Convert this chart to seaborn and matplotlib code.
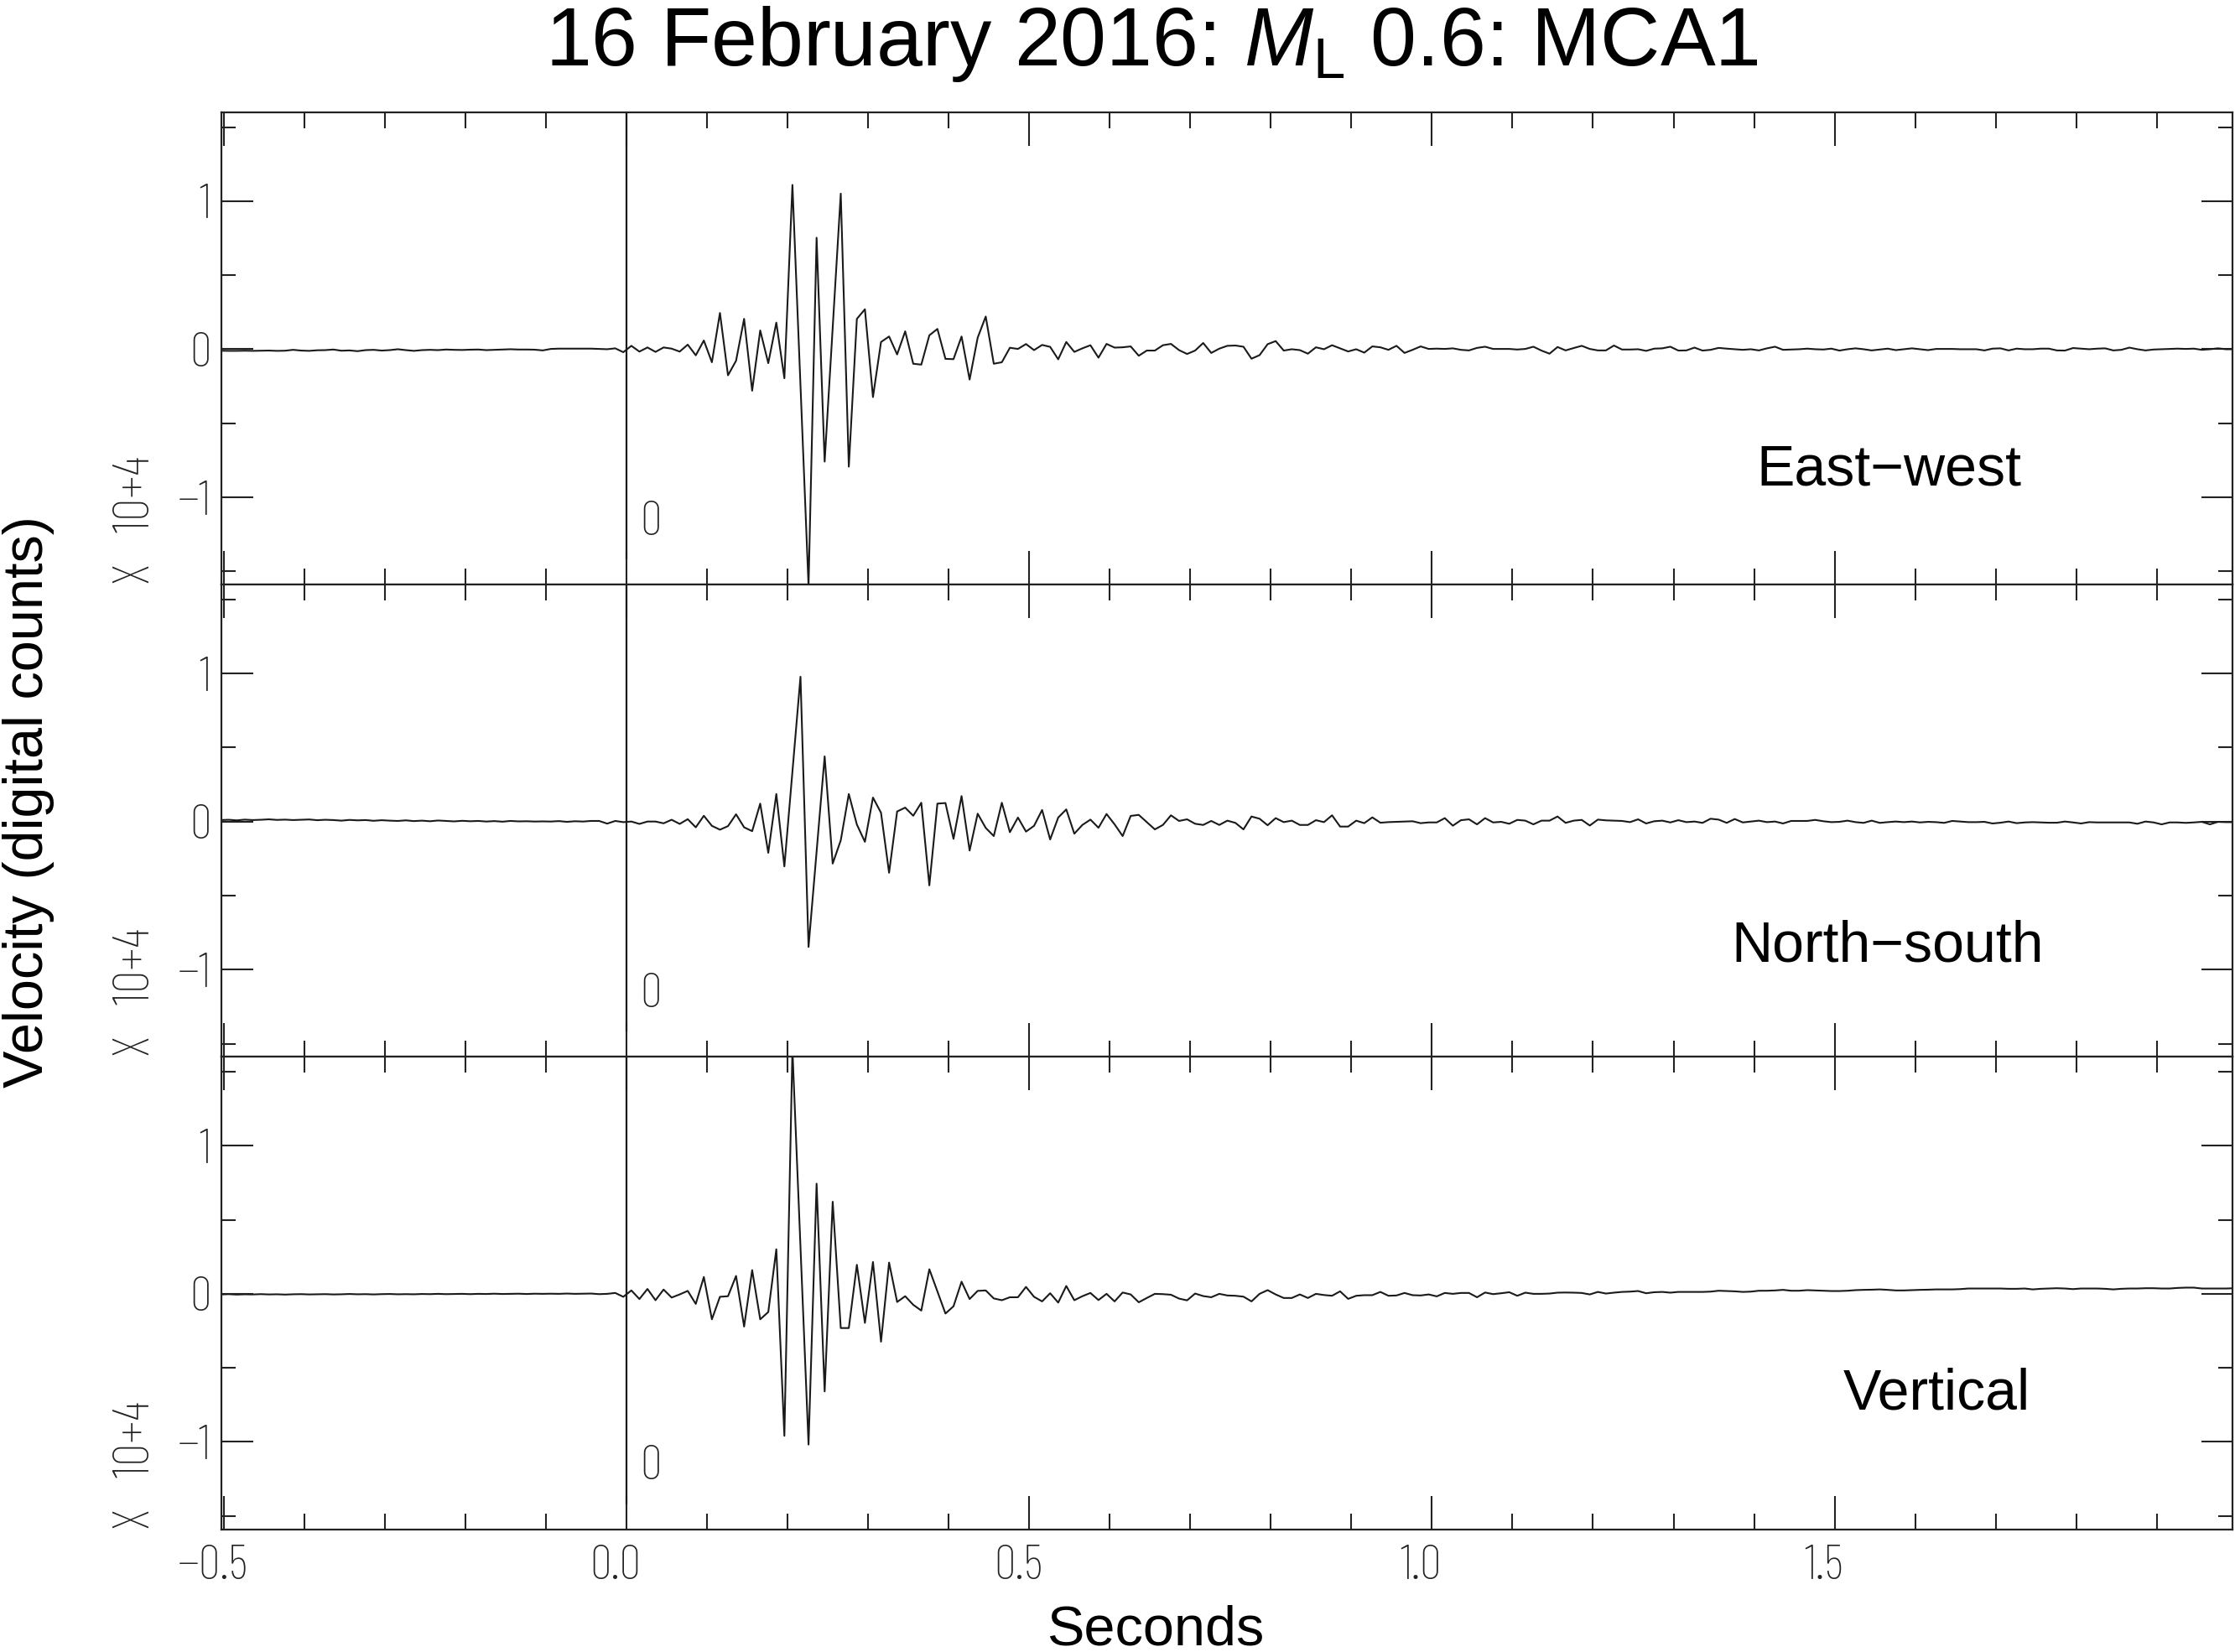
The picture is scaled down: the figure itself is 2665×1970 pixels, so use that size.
import numpy as np
import pandas as pd
import matplotlib
matplotlib.use("Agg")
import matplotlib.pyplot as plt
import matplotlib.font_manager as fm
from matplotlib.ticker import MultipleLocator, FixedLocator
from matplotlib.transforms import ScaledTranslation
import seaborn as sns

# ---------------- data ----------------
sample_start = -0.504      # time of first sample (s)
sample_step = 0.01         # 100 Hz

component_names = ["East\u2212west", "North\u2212south", "Vertical"]

ew_pre = [-0.010, -0.011, -0.011, -0.010, -0.011, -0.010, -0.009, -0.011, -0.010, -0.004,
          -0.009, -0.011, -0.007, -0.006, -0.002, -0.010, -0.008, -0.013, -0.006, -0.004,
          -0.009, -0.006, 0.000, -0.006, -0.011, -0.006, -0.004, -0.006, -0.002, -0.004,
          -0.005, -0.003, -0.002, -0.006, -0.004, -0.002, 0.000, -0.002, -0.002, -0.003,
          -0.008, 0.002, 0.004, 0.004, 0.004, 0.004, 0.004, 0.002, 0.000, 0.006, -0.020]
ew_event = [0.023, -0.016, 0.012, -0.018, 0.012, 0.004, -0.016, 0.031, -0.041, 0.059,
            -0.088, 0.245, -0.176, -0.078, 0.205, -0.280, 0.127, -0.094, 0.180, -0.196,
            1.110, -0.25, -1.60, 0.753, -0.759, 0.15, 1.051, -0.793, 0.205, 0.270,
            -0.323, 0.049, 0.086, -0.035, 0.121, -0.098, -0.104, 0.094, 0.137, -0.065,
            -0.067, 0.086, -0.205, 0.078, 0.221, -0.098, -0.088, 0.010, 0.002, 0.035,
            -0.006, 0.029, 0.016, -0.068, 0.049, -0.018, 0.006]
ew_coda = [0.027, -0.057, 0.036, 0.011, 0.013, 0.019, -0.044, -0.009, -0.009, 0.027,
           0.036, -0.006, -0.032, -0.009, 0.042, -0.025, 0.004, 0.023, 0.025, 0.017,
           -0.064, -0.040, 0.034, 0.055, -0.009, 0.000, -0.006, -0.030, 0.013, 0.000,
           0.027, 0.006, -0.015, 0.000, -0.023, 0.019, 0.013, -0.004, 0.023, -0.025,
           -0.004, 0.019, 0.002, 0.004, 0.002, 0.006, -0.004, -0.008, 0.009, 0.017,
           0.002, 0.002, 0.002, -0.002, 0.002, 0.017, -0.009, -0.030, 0.015, -0.008,
           0.008, 0.023, 0.002, -0.008, -0.008, 0.025, -0.002, -0.002, 0.000, -0.011,
           0.004]
ew_tail = [0.006, 0.017, -0.009, -0.008, 0.011, -0.009, -0.004, 0.009, 0.004, 0.000,
           -0.004, 0.000, -0.008, 0.006, 0.017, -0.004, -0.002, 0.000, 0.004, 0.000,
           -0.002, 0.004, -0.009, 0.000, 0.006, 0.000, -0.008, -0.002, 0.004, -0.006,
           0.000, 0.006, 0.000, -0.006, 0.002, 0.002, 0.002, 0.000, 0.000, 0.000,
           -0.008, 0.004, 0.006, -0.008, 0.004, 0.000, 0.000, 0.004, 0.004, -0.008,
           -0.009, 0.008, 0.004, 0.000, 0.004, 0.006, -0.008, -0.004, 0.011, 0.000,
           -0.008, -0.002, 0.000, 0.002, 0.004, 0.002, 0.004, -0.004, 0.000, 0.006,
           0.000, 0.000]

ns_pre = [0.010, 0.012, 0.008, 0.013, 0.010, 0.012, 0.015, 0.011, 0.013, 0.010,
          0.012, 0.014, 0.009, 0.012, 0.010, 0.006, 0.011, 0.008, 0.010, 0.005,
          0.009, 0.006, 0.004, 0.008, 0.003, 0.006, 0.002, 0.007, 0.004, 0.001,
          0.005, 0.002, 0.004, 0.000, 0.003, -0.001, 0.004, 0.001, 0.002, 0.000,
          0.001, 0.000, 0.003, -0.002, 0.002, 0.000, 0.004, 0.004, -0.014, 0.004, -0.004]
ns_event = [0.000, -0.016, 0.000, 0.000, -0.012, 0.012, -0.016, 0.016, -0.039, 0.039,
            -0.029, -0.055, -0.031, 0.049, -0.039, -0.065, 0.121, -0.211, 0.186, -0.303,
            0.34, 0.978, -0.847, -0.20, 0.440, -0.284, -0.127, 0.186, -0.020, -0.137,
            0.162, 0.059, -0.346, 0.068, 0.094, 0.039, 0.127, -0.431, 0.121, 0.125,
            -0.117, 0.172, -0.196, 0.053, -0.043, -0.098, 0.127, -0.072, 0.027, -0.068,
            -0.029, 0.078, -0.121, 0.027, 0.082, -0.082, -0.023]
ns_coda = [0.013, -0.042, 0.051, -0.019, -0.098, 0.038, 0.045, -0.004, -0.053, -0.023,
           0.042, 0.004, 0.015, -0.015, -0.023, 0.004, -0.023, 0.006, -0.009, -0.053,
           0.034, 0.019, -0.025, 0.023, -0.004, 0.006, -0.023, -0.023, 0.009, -0.004,
           0.042, -0.034, -0.034, 0.006, -0.011, 0.028, -0.008, -0.004, -0.002, 0.000,
           0.002, -0.011, -0.006, -0.006, 0.023, -0.028, 0.009, 0.015, -0.019, 0.023,
           -0.006, -0.002, -0.015, 0.011, 0.006, -0.019, 0.006, 0.006, 0.034, -0.009,
           0.006, 0.011, -0.027, 0.013, 0.008, 0.006, 0.004, -0.004, 0.015, -0.013,
           0.002]
ns_tail = [0.006, -0.006, 0.009, -0.004, 0.000, -0.009, 0.019, 0.013, -0.009, 0.017,
           -0.006, 0.000, 0.006, -0.004, 0.000, -0.013, 0.004, 0.004, 0.004, 0.011,
           0.002, -0.004, -0.002, 0.006, -0.004, -0.009, 0.006, -0.009, -0.004, 0.000,
           -0.004, 0.000, -0.006, -0.002, -0.004, -0.009, 0.004, 0.000, -0.004, -0.004,
           -0.002, -0.013, -0.008, 0.000, -0.011, -0.006, -0.004, -0.006, -0.008, -0.008,
           0.000, -0.006, -0.013, -0.004, -0.006, -0.006, -0.006, -0.006, -0.006, -0.015,
           0.000, -0.006, -0.019, -0.006, -0.006, -0.009, -0.006, -0.002, -0.019, -0.002,
           -0.004, -0.004]

z_pre = [-0.004, -0.002, -0.005, -0.003, -0.004, -0.002, -0.004, -0.003, -0.005, -0.003,
         -0.002, -0.004, -0.003, -0.002, -0.004, -0.003, -0.001, -0.003, -0.002, -0.004,
         -0.002, -0.001, -0.003, -0.002, -0.003, -0.001, -0.002, 0.000, -0.002, -0.001,
         0.000, -0.002, 0.000, -0.001, 0.001, -0.001, 0.000, 0.001, -0.001, 0.001,
         0.000, 0.001, 0.000, 0.002, 0.000, 0.001, 0.002, -0.002, 0.000, 0.006, -0.020]
z_event = [0.023, -0.035, 0.033, -0.043, 0.029, -0.025, -0.004, 0.020, -0.068, 0.114,
           -0.172, -0.020, -0.016, 0.121, -0.221, 0.160, -0.172, -0.123, 0.301, -0.959,
           1.65, 0.32, -1.018, 0.744, -0.659, 0.622, -0.231, -0.231, 0.196, -0.196,
           0.215, -0.323, 0.211, -0.055, -0.016, -0.074, -0.113, 0.166, 0.016, -0.133,
           -0.084, 0.082, -0.035, 0.020, 0.023, -0.031, -0.043, -0.023, -0.023, 0.047,
           -0.020, -0.051, 0.004, -0.059, 0.053, -0.043, -0.016]
z_coda = [0.006, -0.042, 0.000, -0.051, 0.009, -0.004, -0.057, -0.028, 0.000, -0.002,
          -0.006, -0.032, -0.044, 0.002, -0.015, -0.023, 0.000, -0.011, -0.013, -0.019,
          -0.051, 0.000, 0.025, -0.004, -0.028, -0.028, -0.004, -0.028, 0.000, -0.008,
          -0.013, 0.017, -0.034, -0.013, -0.009, -0.009, 0.013, -0.013, -0.011, 0.006,
          -0.009, -0.011, -0.004, -0.017, 0.006, 0.000, 0.006, 0.006, -0.023, 0.009,
          -0.002, 0.004, 0.011, -0.013, 0.008, 0.000, 0.000, 0.002, 0.008, 0.009,
          0.008, 0.006, -0.004, 0.013, 0.002, 0.008, 0.013, 0.015, 0.019, 0.004,
          0.011]
z_tail = [0.013, 0.008, 0.013, 0.013, 0.013, 0.013, 0.015, 0.021, 0.019, 0.017,
          0.013, 0.015, 0.021, 0.021, 0.023, 0.027, 0.021, 0.021, 0.025, 0.023,
          0.021, 0.019, 0.019, 0.021, 0.025, 0.027, 0.028, 0.030, 0.027, 0.023,
          0.023, 0.025, 0.027, 0.028, 0.030, 0.030, 0.030, 0.032, 0.036, 0.036,
          0.036, 0.036, 0.036, 0.034, 0.034, 0.036, 0.030, 0.034, 0.036, 0.038,
          0.036, 0.032, 0.036, 0.036, 0.036, 0.034, 0.030, 0.034, 0.036, 0.036,
          0.038, 0.038, 0.036, 0.036, 0.040, 0.042, 0.042, 0.036, 0.036, 0.036,
          0.036, 0.038]

# panel annotation positions (seconds, x10^4 counts)
label_x = [1.567, 1.566, 1.627]
label_y = [-0.918, -0.947, -0.78]
pick_time = 0.0
pick_bottom = -1.42
pick_text = "0"
scale_text = "X   10+4"
x_ticks = [-0.5, 0.0, 0.5, 1.0, 1.5]
x_ticklabels = ["\u22120.5", "0.0", "0.5", "1.0", "1.5"]
y_ticks = [-1, 0, 1]
y_ticklabels = ["\u22121", "0", "1"]
title_text = "16 February 2016: $\\mathit{M}_\\mathrm{L}$ 0.6: MCA1"
xlabel_text = "Seconds"
ylabel_text = "Velocity (digital counts)"

traces = [ew_pre + ew_event + ew_coda + ew_tail,
          ns_pre + ns_event + ns_coda + ns_tail,
          z_pre + z_event + z_coda + z_tail]
n_samples = len(traces[0])
times = np.round(sample_start + sample_step * np.arange(n_samples), 4)

frames = []
for name, tr in zip(component_names, traces):
    frames.append(pd.DataFrame({"t": times, "v": np.array(tr), "comp": name}))
df = pd.concat(frames, ignore_index=True)

# ---------------- fonts ----------------
sns.set_theme(style="ticks")
plt.rcParams["font.family"] = ["Liberation Sans", "DejaVu Sans"]
plt.rcParams["mathtext.fontset"] = "custom"
plt.rcParams["mathtext.rm"] = "Liberation Sans"
plt.rcParams["mathtext.it"] = "Liberation Sans:italic"

_st_map = {"ultra-condensed": 100, "extra-condensed": 200, "condensed": 300,
           "semi-condensed": 400, "normal": 500, "semi-expanded": 600,
           "expanded": 700, "extra-expanded": 800, "ultra-expanded": 900}


def _weight(w):
    if isinstance(w, (int, float)):
        return int(w)
    return fm.weight_dict.get(w, 400)


def pick_thin_condensed():
    best = None
    for f in fm.fontManager.ttflist:
        nm = f.name
        if "Mono" in nm or "Serif" in nm or "CJK" in nm or "Math" in nm:
            continue
        st = f.stretch
        stv = _st_map.get(st, 500) if isinstance(st, str) else int(st)
        if "Condensed" in nm or "Narrow" in nm:
            stv = min(stv, 300)
        if "italic" in str(f.style).lower() or "oblique" in str(f.style).lower():
            continue
        w = _weight(f.weight)
        score = (stv if stv < 500 else 1000, abs(w - 250))
        if best is None or score < best[0]:
            best = (score, f.fname)
    return best[1] if best else None


cond_file = pick_thin_condensed()


def cfp(size):
    if cond_file:
        return fm.FontProperties(fname=cond_file, size=size)
    return fm.FontProperties(family="DejaVu Sans", size=size)


tick_color = "#222222"
line_color = "#1a1a1a"

# ---------------- figure ----------------
W, H, DPI = 2665, 1970, 100
fig = plt.figure(figsize=(W / DPI, H / DPI), dpi=DPI)
fig.patch.set_facecolor("white")

left = 264 / W
width = (2662 - 264) / W
panel_h = 0.2859
bottoms = [0.6461, 0.3602, 0.0743]

ylim = (-1.59, 1.60)
xlim = (-0.503, 1.994)

xlabel_shift = ScaledTranslation(-13 / DPI, 0, fig.dpi_scale_trans)

for i, name in enumerate(component_names):
    ax = fig.add_axes([left, bottoms[i], width, panel_h])
    sub = df[df["comp"] == name]
    sns.lineplot(data=sub, x="t", y="v", ax=ax, color=line_color, linewidth=1.5,
                 estimator=None, sort=False, legend=False)
    ax.set_xlim(*xlim)
    ax.set_ylim(*ylim)
    ax.set_xlabel("")
    ax.set_ylabel("")
    ax.set_facecolor("white")

    # pick line and marker
    ax.vlines(pick_time, pick_bottom, ylim[1], color=line_color, linewidth=1.6)
    ax.text(pick_time + 0.03, -1.17, pick_text, fontproperties=cfp(42),
            color=tick_color, ha="center", va="center")

    # component label
    ax.text(label_x[i], label_y[i], name, fontsize=49, color="black",
            ha="center", va="baseline")

    # scale text
    ax.text(-0.0425, 0.0, scale_text, transform=ax.transAxes, rotation=90,
            fontproperties=cfp(44), color=tick_color, ha="center", va="bottom")

    for sp in ax.spines.values():
        sp.set_visible(True)
        sp.set_linewidth(1.6)
        sp.set_color("#222222")

    ax.xaxis.set_major_locator(FixedLocator(x_ticks))
    ax.xaxis.set_minor_locator(MultipleLocator(0.1))
    ax.yaxis.set_major_locator(FixedLocator(y_ticks))
    ax.yaxis.set_minor_locator(MultipleLocator(0.5))

    ax.xaxis.set_tick_params(which="major", direction="in", length=29, width=1.5,
                             top=True, bottom=True, color="#222222", pad=13)
    ax.xaxis.set_tick_params(which="minor", direction="in", length=14, width=1.5,
                             top=True, bottom=True, color="#222222")
    ax.yaxis.set_tick_params(which="major", direction="in", length=27, width=1.5,
                             left=True, right=True, color="#222222", pad=9)
    ax.yaxis.set_tick_params(which="minor", direction="in", length=12, width=1.5,
                             left=True, right=True, color="#222222")

    ax.set_yticklabels(y_ticklabels, fontproperties=cfp(42), color=tick_color)
    if i == 2:
        ax.set_xticklabels(x_ticklabels, fontproperties=cfp(42), color=tick_color)
        for lab in ax.get_xticklabels():
            lab.set_transform(lab.get_transform() + xlabel_shift)
    else:
        ax.set_xticklabels([])

fig.text(0.5153, 0.9604, title_text, fontsize=71, ha="center", va="baseline",
         color="black")
fig.text(0.0128, 0.5147, ylabel_text, fontsize=48, rotation=90, ha="center",
         va="center", color="black")
fig.text(0.517, 0.0045, xlabel_text, fontsize=48, ha="center", va="baseline",
         color="black")

fig.savefig("out.png", dpi=DPI, facecolor="white")
